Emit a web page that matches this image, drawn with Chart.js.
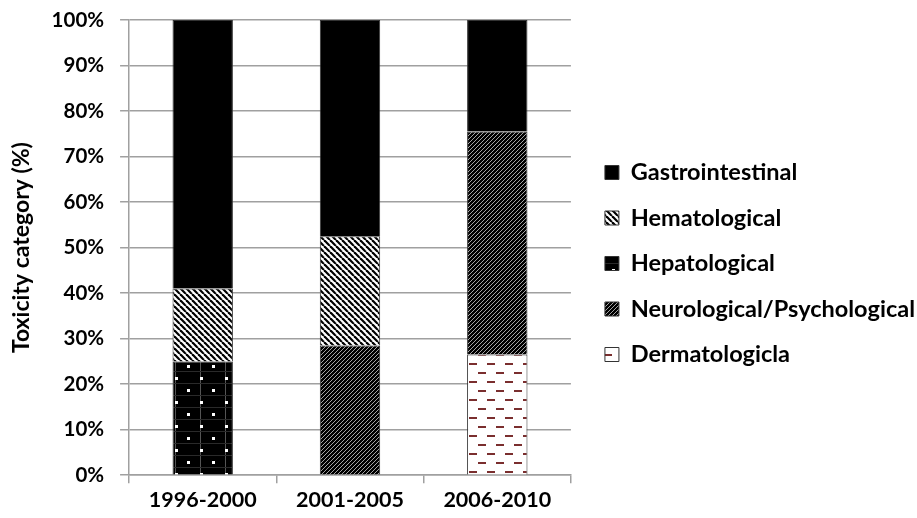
<!DOCTYPE html>
<html>
<head>
<meta charset="utf-8">
<script src="https://cdn.jsdelivr.net/npm/chart.js@4/dist/chart.umd.min.js"></script>
<style>
  html, body { margin: 0; padding: 0; background: #fff; }
  #wrap { width: 917px; height: 518px; position: relative; }
</style>
</head>
<body>
<div id="wrap"><canvas id="myChart"></canvas></div>
<script>
const periods = ['1996-2000', '2001-2005', '2006-2010'];
const gastro = [59, 47.5, 24.5];
const hemato = [16, 24, null];
const hepato = [25, null, null];
const neuro = [null, 28.5, 49];
const dermato = [null, null, 26.5];
const yTicks = [0, 10, 20, 30, 40, 50, 60, 70, 80, 90, 100];

const FONT = 'Lato, "Open Sans", sans-serif';
const GAP = 12;

function tile(w, h, draw) {
    const c = document.createElement('canvas');
    c.width = w; c.height = h;
    const g = c.getContext('2d');
    draw(g, w, h);
    return g.createPattern(c, 'repeat');
}

// white/black "\" stripes
const hematoFill = tile(6, 6, (g, w, h) => {
    g.fillStyle = '#fff'; g.fillRect(0, 0, w, h);
    g.strokeStyle = '#000'; g.lineWidth = 2.2;
    for (let k = -1; k <= 1; k++) {
        g.beginPath(); g.moveTo(k * w, 0); g.lineTo(k * w + w, h); g.stroke();
    }
});

// dense "/" stripes on black
const neuroFill = tile(4, 4, (g, w, h) => {
    g.fillStyle = '#000'; g.fillRect(0, 0, w, h);
    g.strokeStyle = '#b8b8b8'; g.lineWidth = 0.9;
    for (let k = -1; k <= 1; k++) {
        g.beginPath(); g.moveTo(k * w, h); g.lineTo(k * w + w, 0); g.stroke();
    }
});

// black with white dots and a faint grid
const hepatoFill = tile(25, 24, (g, w, h) => {
    g.fillStyle = '#000'; g.fillRect(0, 0, w, h);
    g.fillStyle = '#555';
    g.fillRect(0, 0, 1, h);
    g.fillStyle = '#2a2a2a';
    g.fillRect(0, 11, w, 1); g.fillRect(0, 23, w, 1);
    g.fillStyle = '#fff';
    g.fillRect(12, 5, 3, 3);
    g.fillRect(0, 17, 3, 3);
});

// white with brown dashes
const dermatoFill = tile(18, 18, (g, w, h) => {
    g.fillStyle = '#fff'; g.fillRect(0, 0, w, h);
    g.fillStyle = '#7a2e2e';
    g.fillRect(1, 3, 8, 2);
    g.fillRect(10, 12, 8, 2);
});

const datasets = [
    { label: 'Dermatologicla', data: dermato, backgroundColor: dermatoFill },
    { label: 'Neurological/Psychological', data: neuro, backgroundColor: neuroFill },
    { label: 'Hepatological', data: hepato, backgroundColor: hepatoFill },
    { label: 'Hematological', data: hemato, backgroundColor: hematoFill },
    { label: 'Gastrointestinal', data: gastro, backgroundColor: '#000' }
].map(d => Object.assign(d, {
    borderColor: '#333',
    borderWidth: 1,
    barPercentage: 0.41,
    categoryPercentage: 1
}));

// let the legend be as wide as its text and sit a bit away from the plot
const legendGap = {
    id: 'legendGap',
    beforeInit(chart) {
        const fit = chart.legend.fit;
        chart.legend.fit = function () {
            fit.call(this);
            if (this.columnSizes && this.columnSizes.length) {
                this.width = this.options.labels.padding + this.columnSizes[0].width + GAP + 2;
            }
        };
    },
    afterLayout(chart) {
        chart.legend.left += GAP;
        chart.legend.top += 5;
        chart.legend.bottom += 5;
    }
};

const ctx = document.getElementById('myChart');
new Chart(ctx, {
    type: 'bar',
    data: { labels: periods, datasets: datasets },
    plugins: [legendGap],
    options: {
        responsive: true,
        maintainAspectRatio: false,
        animation: false,
        layout: { padding: { top: 0, left: 8, right: 0, bottom: 1 } },
        plugins: {
            tooltip: { enabled: false },
            legend: {
                position: 'right',
                reverse: true,
                labels: {
                    boxWidth: 14,
                    boxHeight: 14,
                    padding: 22,
                    color: '#000',
                    font: { family: FONT, size: 23.5, weight: 'bold' }
                }
            }
        },
        scales: {
            x: {
                stacked: true,
                grid: {
                    offset: true,
                    drawOnChartArea: false,
                    color: '#a0a0a0',
                    lineWidth: 1.5,
                    tickLength: 8
                },
                border: { color: '#a0a0a0', width: 1.5 },
                ticks: {
                    color: '#000',
                    padding: 4,
                    font: { family: FONT, size: 21.5, weight: 'bold' }
                }
            },
            y: {
                stacked: true,
                min: 0,
                max: 100,
                afterBuildTicks(axis) {
                    axis.ticks = yTicks.map(v => ({ value: v }));
                },
                afterFit(axis) {
                    axis.paddingTop = 20;
                },
                grid: {
                    color: '#a0a0a0',
                    lineWidth: 1.5,
                    tickLength: 9
                },
                border: { color: '#a0a0a0', width: 1.5 },
                ticks: {
                    color: '#000',
                    padding: 16,
                    font: { family: FONT, size: 20.5, weight: 'bold' },
                    callback: v => v + '%'
                },
                title: {
                    display: true,
                    text: 'Toxicity category (%)',
                    color: '#000',
                    padding: { top: 0, bottom: 0 },
                    font: { family: FONT, size: 23, weight: 'bold' }
                }
            }
        }
    }
});
</script>
</body>
</html>
